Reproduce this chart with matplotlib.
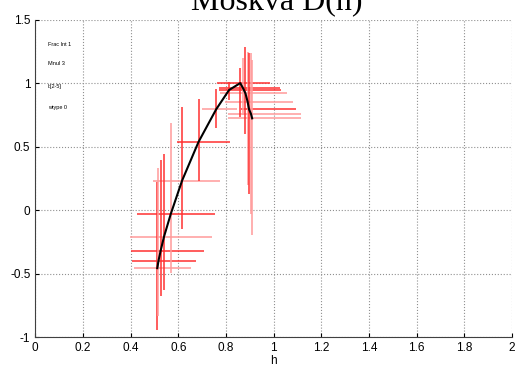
import numpy as np
import matplotlib.pyplot as plt

# spectrum points (h, D(h)) with error ranges
h = [0.512, 0.517, 0.526, 0.540, 0.569, 0.616, 0.685, 0.759, 0.813, 0.860,
     0.872, 0.882, 0.891, 0.897, 0.905, 0.910]
D = [-0.457, -0.399, -0.320, -0.210, -0.027, 0.233, 0.538, 0.795, 0.947, 1.002,
     0.961, 0.921, 0.855, 0.795, 0.760, 0.724]
h_lo = [0.414, 0.407, 0.401, 0.397, 0.425, 0.492, 0.595, 0.699, 0.770, 0.762,
        0.770, 0.774, 0.795, 0.865, 0.807, 0.807]
h_hi = [0.652, 0.673, 0.709, 0.740, 0.753, 0.777, 0.816, 0.846, 1.030, 0.984,
        1.026, 1.055, 1.080, 1.096, 1.113, 1.113]
D_lo = [-0.943, -0.838, -0.675, -0.633, -0.496, -0.150, 0.233, 0.646, 0.868, 0.737,
        0.750, 0.598, 0.199, 0.126, -0.031, -0.194]
D_hi = [0.225, 0.335, 0.395, 0.441, 0.690, 0.816, 0.874, 0.953, 1.010, 1.118,
        1.198, 1.288, 1.249, 1.236, 1.236, 1.183]
h_col = ['#ff9a9a', '#ff3030', '#ff3030', '#ff9a9a', '#ff3030', '#ff9a9a', '#ff3030', '#ff9a9a',
         '#ff3030', '#ff3030', '#ff3030', '#ff9a9a', '#ff9a9a', '#ff3030', '#ff9a9a', '#ff9a9a']
v_col = ['#ff3030', '#ff9a9a', '#ff3030', '#ff3030', '#ff9a9a', '#ff3030', '#ff3030', '#ff3030',
         '#ff3030', '#ff3030', '#ff9a9a', '#ff3030', '#ff9a9a', '#ff3030', '#ff9a9a', '#ff9a9a']

info = ['Frac Int 1', 'Mnul 3', 'I:[2-5]', 'wtype 0']
info_y = [1.31, 1.153, 0.975, 0.806]

xticks = [0, 0.2, 0.4, 0.6, 0.8, 1, 1.2, 1.4, 1.6, 1.8, 2]
xlabels = ['0', '0.2', '0.4', '0.6', '0.8', '1', '1.2', '1.4', '1.6', '1.8', '2']
yticks = [-1, -0.5, 0, 0.5, 1, 1.5]
ylabels = ['-1', '-0.5', '0', '0.5', '1', '1.5']

plt.rcParams['font.family'] = 'Liberation Sans'

fig = plt.figure(figsize=(5.16, 3.69), dpi=100)
ax = fig.add_axes([0.0684, 0.0867, 0.9236, 0.8593])

ax.hlines(D, h_lo, h_hi, colors=h_col, linewidth=1.1)
ax.vlines(h, D_lo, D_hi, colors=v_col, linewidth=1.1)
ax.plot(h, D, color='black', linewidth=1.5)

for t, yy in zip(info, info_y):
    ax.text(0.053, yy, t, fontsize=4, va='center', ha='left')

ax.set_xlim(0, 2)
ax.set_ylim(-1, 1.5)
ax.set_xticks(xticks)
ax.set_xticklabels(xlabels)
ax.set_yticks(yticks)
ax.set_yticklabels(ylabels)
ax.tick_params(direction='in', length=3, labelsize=8.5, colors='black')
ax.grid(True, linestyle=':', color='#909090', linewidth=0.8)
ax.spines['top'].set_visible(False)
ax.spines['right'].set_visible(False)
ax.spines['left'].set_color('#404040')
ax.spines['bottom'].set_color('#404040')
ax.set_xlabel('h', fontsize=8.5, labelpad=1)

fig.text(0.537, 0.976, 'Moskva D(h)', fontsize=23, family='Liberation Serif',
         ha='center', va='baseline')

fig.savefig('out.png', dpi=100)
